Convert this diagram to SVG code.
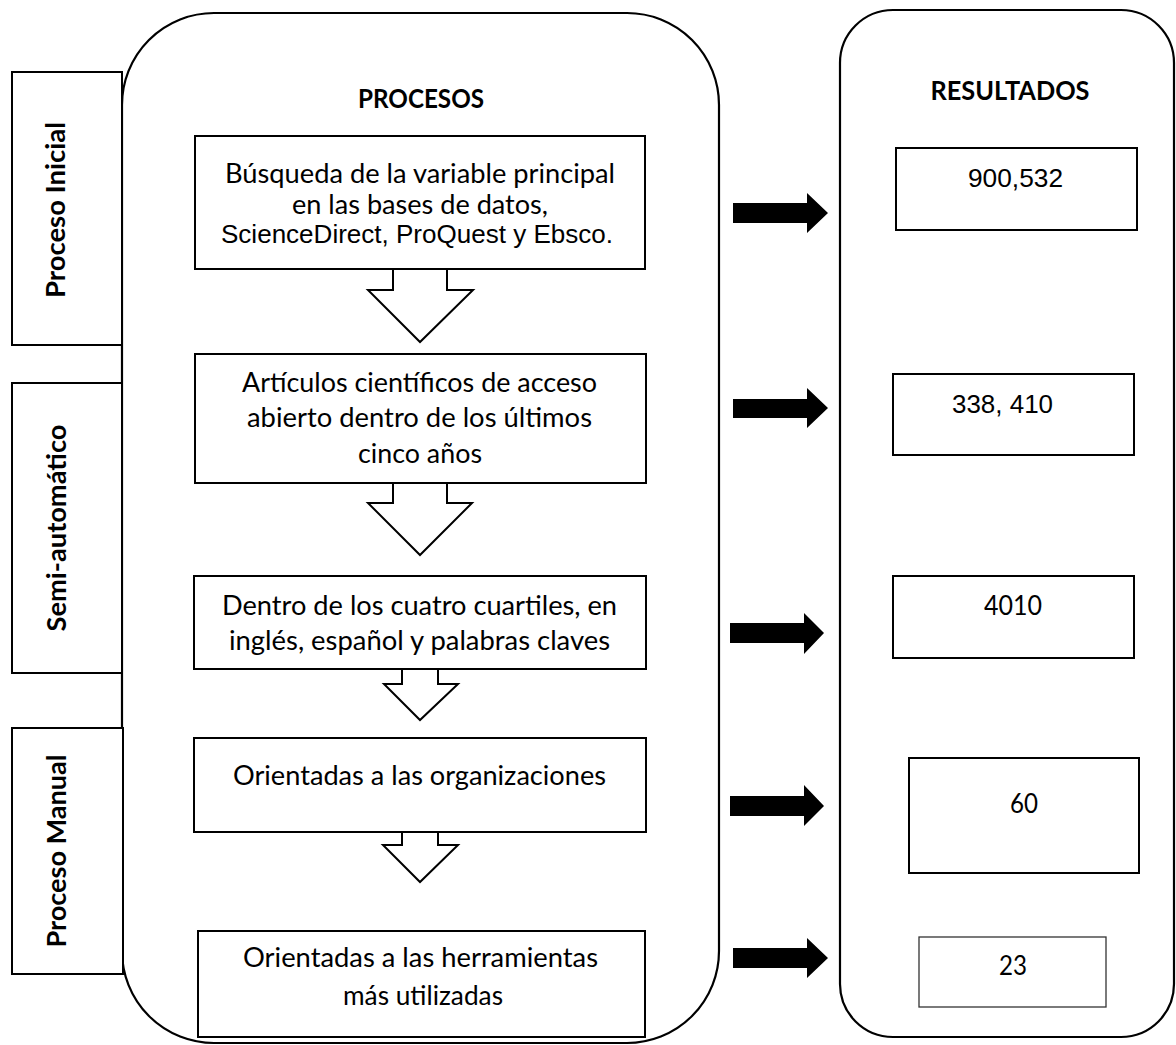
<svg xmlns="http://www.w3.org/2000/svg" width="1176" height="1045" viewBox="0 0 1176 1045">
<style>
.box{fill:#fff;stroke:#000;stroke-width:2}
.thin{fill:#fff;stroke:#333;stroke-width:1.3}
.big{fill:none;stroke:#000;stroke-width:2.2}
.hollow{fill:#fff;stroke:#000;stroke-width:2;stroke-linejoin:miter}
.solid{fill:#000;stroke:none}
.t{font-family:Lato,"Liberation Sans",sans-serif;font-size:27px;fill:#000;text-anchor:middle}
.b{font-family:Lato,"Liberation Sans",sans-serif;font-size:27px;font-weight:bold;fill:#000;text-anchor:middle}
.a{font-family:"Liberation Sans",Arial,sans-serif;font-size:26px;fill:#000;text-anchor:middle}
</style>
<rect width="1176" height="1045" fill="#fff"/>
<g id="procesos-container">
<rect class="big" x="122" y="13" width="597" height="1030" rx="92" ry="92"/>
<text class="b" x="421" y="108" textLength="126" lengthAdjust="spacingAndGlyphs">PROCESOS</text>
</g>
<g id="resultados-container">
<rect class="big" x="840" y="10" width="334" height="1027" rx="53" ry="53"/>
<text class="b" x="1010" y="100" textLength="159" lengthAdjust="spacingAndGlyphs">RESULTADOS</text>
</g>
<g id="label-inicial">
<rect class="box" x="12" y="72" width="110" height="273"/>
<text class="b" transform="translate(65,210) rotate(-90)" textLength="176" lengthAdjust="spacingAndGlyphs">Proceso Inicial</text>
</g>
<g id="label-semi">
<rect class="box" x="12" y="383" width="110" height="290"/>
<text class="b" transform="translate(66,528) rotate(-90)" textLength="207" lengthAdjust="spacingAndGlyphs">Semi-automático</text>
</g>
<g id="label-manual">
<rect class="box" x="12" y="728" width="111" height="246"/>
<text class="b" transform="translate(66,851) rotate(-90)" textLength="193" lengthAdjust="spacingAndGlyphs">Proceso Manual</text>
</g>
<g id="connectors">
<polygon class="hollow" points="393,269 393,290 368,290 420,342 473,290 447,290 447,269"/>
<polygon class="hollow" points="393,483 393,503 368,503 420,555 472,503 447,503 447,483"/>
<polygon class="hollow" points="402,669 402,684 384,684 420,720 458,684 438,684 438,669"/>
<polygon class="hollow" points="402,832 402,845 383,845 420,882 458,845 438,845 438,832"/>
<polygon class="solid" points="733,203 807,203 807,193 828,213 807,233 807,223 733,223"/>
<polygon class="solid" points="733,399 807,399 807,388 828,408 807,428 807,418 733,418"/>
<polygon class="solid" points="730,623 804,623 804,613 824,633 804,654 804,643 730,643"/>
<polygon class="solid" points="730,796 804,796 804,785 824,806 804,826 804,816 730,816"/>
<polygon class="solid" points="733,948 807,948 807,938 828,958 807,978 807,968 733,968"/>
</g>
<g id="proc1">
<rect class="box" x="195" y="136" width="450" height="133"/>
<text class="t" x="420" y="183" textLength="390" lengthAdjust="spacingAndGlyphs">Búsqueda de la variable principal</text>
<text class="t" x="420" y="214" textLength="256" lengthAdjust="spacingAndGlyphs">en las bases de datos,</text>
<text class="a" x="417" y="243" textLength="392" lengthAdjust="spacingAndGlyphs">ScienceDirect, ProQuest y Ebsco.</text>
</g>
<g id="proc2">
<rect class="box" x="195" y="354" width="451" height="129"/>
<text class="t" x="419.5" y="392" textLength="355" lengthAdjust="spacingAndGlyphs">Artículos científicos de acceso</text>
<text class="t" x="419.5" y="427" textLength="345" lengthAdjust="spacingAndGlyphs">abierto dentro de los últimos</text>
<text class="t" x="420" y="463" textLength="124" lengthAdjust="spacingAndGlyphs">cinco años</text>
</g>
<g id="proc3">
<rect class="box" x="194" y="576" width="452" height="93"/>
<text class="t" x="419.5" y="615" textLength="395" lengthAdjust="spacingAndGlyphs">Dentro de los cuatro cuartiles, en</text>
<text class="t" x="419.5" y="650" textLength="381" lengthAdjust="spacingAndGlyphs">inglés, español y palabras claves</text>
</g>
<g id="proc4">
<rect class="box" x="194" y="738" width="452" height="94"/>
<text class="t" x="419.5" y="785" textLength="373" lengthAdjust="spacingAndGlyphs">Orientadas a las organizaciones</text>
</g>
<g id="proc5">
<rect class="box" x="198" y="931" width="447" height="106"/>
<text class="t" x="420.5" y="967" textLength="355" lengthAdjust="spacingAndGlyphs">Orientadas a las herramientas</text>
<text class="t" x="423" y="1005" textLength="160" lengthAdjust="spacingAndGlyphs">más utilizadas</text>
</g>
<g id="res1">
<rect class="box" x="896" y="148" width="241" height="82"/>
<text class="a" x="1015.5" y="187" textLength="95" lengthAdjust="spacingAndGlyphs">900,532</text>
</g>
<g id="res2">
<rect class="box" x="893" y="374" width="241" height="81"/>
<text class="a" x="1002.5" y="413" textLength="101" lengthAdjust="spacingAndGlyphs">338, 410</text>
</g>
<g id="res3">
<rect class="box" x="893" y="576" width="241" height="82"/>
<text class="t" x="1013" y="615" textLength="58" lengthAdjust="spacingAndGlyphs">4010</text>
</g>
<g id="res4">
<rect class="box" x="909" y="758" width="230" height="115"/>
<text class="t" x="1024" y="813" textLength="28" lengthAdjust="spacingAndGlyphs">60</text>
</g>
<g id="res5">
<rect class="thin" x="919" y="937" width="187" height="70"/>
<text class="t" x="1013" y="975" textLength="28" lengthAdjust="spacingAndGlyphs">23</text>
</g>
</svg>
